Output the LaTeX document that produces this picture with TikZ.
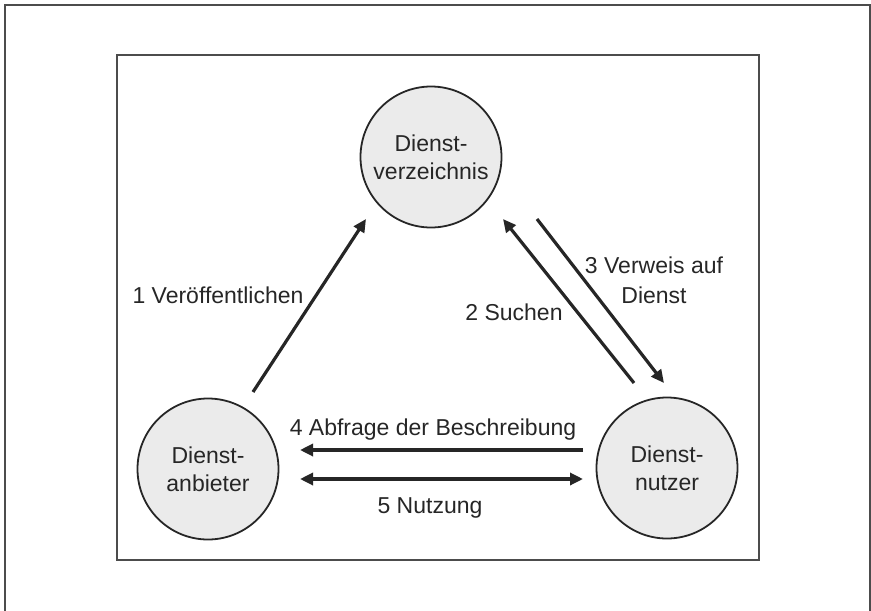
\documentclass[tikz,border=0pt]{standalone}
\usepackage{fontspec}
\setmainfont{Liberation Sans}
\usetikzlibrary{arrows.meta,calc}
\begin{document}
\begin{tikzpicture}[x=1pt,y=-1pt,
 circ/.style={circle,draw=black!85,line width=1.8pt,fill=black!8,minimum size=141pt,inner sep=0pt,align=center,font=\fontsize{23}{28}\selectfont,text=black!85},
 lbl/.style={font=\fontsize{23}{30}\selectfont,text=black!85,align=center,inner sep=0pt},
 arr/.style={line width=3.2pt,draw=black!85,-{Triangle[length=13pt,width=12pt]}},
 darr/.style={line width=3.2pt,draw=black!85,{Triangle[length=13pt,width=12pt]}-{Triangle[length=13pt,width=12pt]}},
 frame/.style={draw=black!70,line width=2pt}]
\useasboundingbox (0,0) rectangle (871,611);
\begin{scope}
\clip (0,0) rectangle (871,611);
\draw[frame] (5,5) rectangle (870,640);
\end{scope}
\draw[frame,line width=2.4pt] (117,55) rectangle (759,560);
\node[circ] (verz) at (431,157) {Dienst-\\verzeichnis};
\node[circ] (anb) at (208,469) {Dienst-\\anbieter};
\node[circ] (nut) at (667,468) {Dienst-\\nutzer};
\draw[arr] ($(anb)+(45,-77)$) -- ($(verz)+(-65,62)$);
\draw[arr] ($(nut)+(-33,-85)$) -- ($(verz)+(72,62)$);
\draw[arr] ($(verz)+(106,62)$) -- ($(nut)+(-3,-85)$);
\draw[arr] ($(nut)+(-84,-18)$) -- ($(anb)+(92,-19)$);
\draw[darr] ($(anb)+(92,10)$) -- ($(nut)+(-84,11)$);
\node[lbl,anchor=base] (l1) at (218,303) {1 Veröffentlichen};
\node[lbl,anchor=base] (l2) at (514,320) {2 Suchen};
\node[lbl] (l3) at (654,280) {3 Verweis auf\\Dienst};
\node[lbl,anchor=base] (l4) at (433,435) {4 Abfrage der Beschreibung};
\node[lbl,anchor=base] (l5) at (430,513) {5 Nutzung};
\end{tikzpicture}
\end{document}
